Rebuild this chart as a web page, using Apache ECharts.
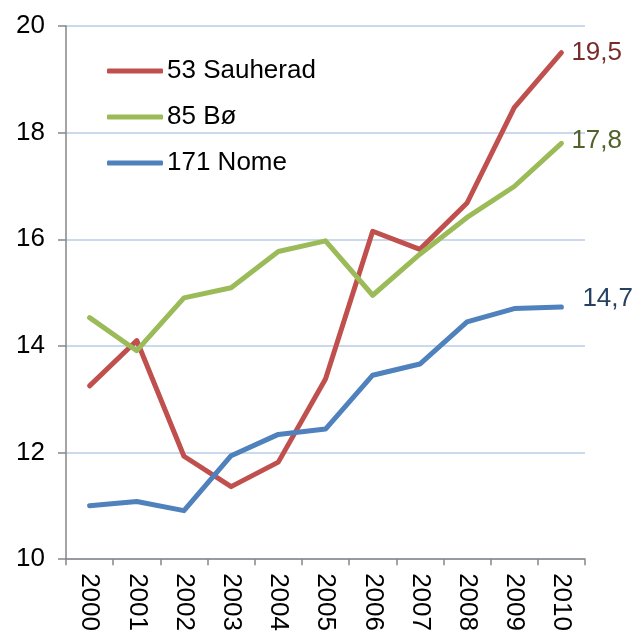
<!DOCTYPE html>
<html>
<head>
<meta charset="utf-8">
<script src="https://cdn.jsdelivr.net/npm/echarts@6/dist/echarts.min.js"></script>
<style>
  html, body { margin: 0; padding: 0; background: #fff; }
  #chart { width: 636px; height: 634px; }
</style>
</head>
<body>
<div id="chart"></div>
<script>
var years = ['2000', '2001', '2002', '2003', '2004', '2005', '2006', '2007', '2008', '2009', '2010'];
var sauherad = [13.25, 14.1, 11.93, 11.36, 11.82, 13.38, 16.15, 15.81, 16.68, 18.47, 19.5];
var bo = [14.53, 13.91, 14.9, 15.09, 15.77, 15.97, 14.95, 15.72, 16.41, 16.99, 17.8];
var nome = [11.0, 11.08, 10.91, 11.94, 12.34, 12.44, 13.45, 13.66, 14.45, 14.7, 14.73];

var fontFam = '"Liberation Sans", Arial, sans-serif';

function lineSerie(name, data, color, labelColor, offset) {
    return {
        name: name,
        type: 'line',
        data: data,
        symbol: 'none',
        lineStyle: { color: color, width: 5, cap: 'round', join: 'round' },
        itemStyle: { color: color },
        endLabel: {
            show: true,
            color: labelColor,
            fontSize: 26,
            fontFamily: fontFam,
            offset: offset,
            formatter: function (p) {
                return p.value.toFixed(1).replace('.', ',');
            }
        }
    };
}

var chart = echarts.init(document.getElementById('chart'));
chart.setOption({
    animation: false,
    backgroundColor: '#fff',
    grid: { left: 66, right: 51, top: 26, bottom: 74 },
    legend: {
        orient: 'vertical',
        left: 107,
        top: 58,
        padding: 0,
        itemWidth: 56,
        itemHeight: 5,
        itemGap: 20,
        icon: 'roundRect',
        textStyle: { fontSize: 26, fontFamily: fontFam, color: '#000', padding: [0, 0, 0, -1] },
        data: ['53 Sauherad', '85 Bø', '171 Nome']
    },
    xAxis: {
        type: 'category',
        data: years,
        boundaryGap: true,
        axisLine: { lineStyle: { color: '#868686', width: 1.5 } },
        axisTick: { show: true, length: 6, lineStyle: { color: '#868686', width: 1.5 } },
        axisLabel: {
            rotate: -90,
            fontSize: 26,
            fontFamily: fontFam,
            color: '#000',
            margin: 14
        }
    },
    yAxis: {
        type: 'value',
        min: 10,
        max: 20,
        interval: 2,
        axisLine: { show: true, lineStyle: { color: '#868686', width: 1.5 } },
        axisTick: { show: true, length: 8, lineStyle: { color: '#868686', width: 1.5 } },
        splitLine: { lineStyle: { color: '#b9cde5', width: 1.5 } },
        axisLabel: {
            fontSize: 26,
            fontFamily: fontFam,
            color: '#000',
            margin: 21
        }
    },
    series: [
        lineSerie('53 Sauherad', sauherad, '#c0504d', '#772c2a', [2, 0]),
        lineSerie('85 Bø', bo, '#9bbb59', '#4f6228', [2, -2]),
        lineSerie('171 Nome', nome, '#4f81bd', '#254061', [13, -8])
    ]
});
</script>
</body>
</html>
